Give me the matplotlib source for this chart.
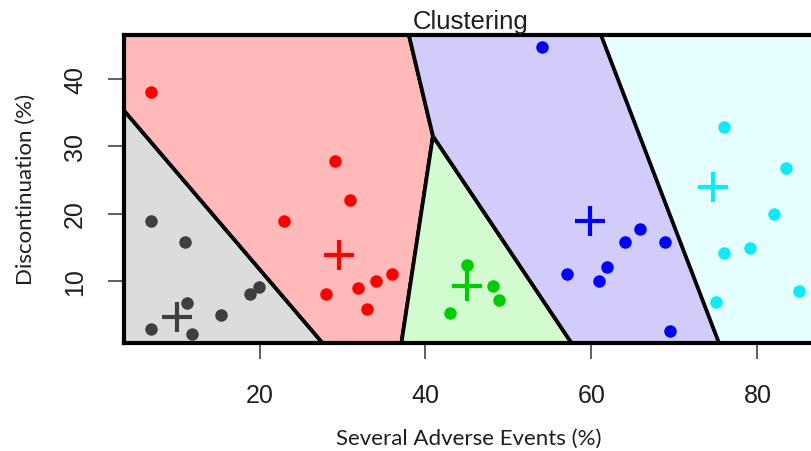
import matplotlib
matplotlib.use("Agg")
import matplotlib.pyplot as plt

# ---------------- data ----------------
cluster_names = ["gray", "red", "green", "blue", "cyan"]

gray_x = [6.9, 11.0, 6.9, 11.3, 11.9, 15.4, 18.9, 19.9]
gray_y = [18.9, 15.8, 2.8, 6.7, 2.1, 4.9, 8.0, 9.1]

red_x = [6.9, 29.1, 30.9, 23.0, 36.0, 34.0, 31.9, 28.0, 33.0]
red_y = [38.0, 27.8, 22.0, 18.9, 11.0, 10.0, 9.0, 8.0, 5.8]

green_x = [45.0, 48.1, 48.9, 42.9]
green_y = [12.3, 9.3, 7.2, 5.2]

blue_x = [54.1, 65.9, 64.0, 68.9, 61.9, 57.0, 60.9, 69.5]
blue_y = [44.7, 17.7, 15.8, 15.8, 12.1, 11.0, 10.0, 2.6]

cyan_x = [76.0, 83.5, 82.0, 76.0, 79.1, 75.0, 85.0]
cyan_y = [32.9, 26.8, 19.9, 14.1, 14.9, 6.9, 8.5]

center_x = [10.1, 29.6, 45.0, 59.8, 74.6]
center_y = [4.7, 13.8, 9.3, 18.9, 24.0]

# region boundaries (data units)
x_lo, x_hi = 3.67, 87.3
y_lo, y_hi = 0.79, 46.5
gray_reg_x = [x_lo, x_lo, 27.6]
gray_reg_y = [y_lo, 35.3, y_lo]
red_reg_x = [x_lo, x_lo, 38.0, 40.9, 37.1, 27.6]
red_reg_y = [35.3, y_hi, y_hi, 31.5, y_lo, y_lo]
green_reg_x = [37.1, 40.9, 57.6]
green_reg_y = [y_lo, 31.5, y_lo]
blue_reg_x = [38.0, 61.2, 75.4, 57.6, 40.9]
blue_reg_y = [y_hi, y_hi, y_lo, y_lo, 31.5]
cyan_reg_x = [61.2, x_hi + 5, x_hi + 5, 75.4]
cyan_reg_y = [y_hi, y_hi, y_lo, y_lo]

x_ticks = [20, 40, 60, 80]
y_ticks = [10, 20, 30, 40]

title = "Clustering"
x_label = "Several Adverse Events (%)"
y_label = "Discontinuation (%)"

# ---------------- styles ----------------
point_colors = ["#3f3f3f", "#ff0000", "#00cc00", "#0000ff", "#10eaf8"]
fill_colors = ["#dcdcdc", "#ffb9b9", "#d2fbd0", "#d2ccfa", "#e5ffff"]

W, H = 812, 452
fig = plt.figure(figsize=(W / 100, H / 100), dpi=100)
ax_left, ax_right, ax_top, ax_bottom = 124, 818, 36, 344
ax = fig.add_axes([ax_left / W, (H - ax_bottom) / H, (ax_right - ax_left) / W,
                   (ax_bottom - ax_top) / H])
ax.set_xlim(x_lo, x_hi)
ax.set_ylim(y_lo, y_hi)

regions = [(gray_reg_x, gray_reg_y), (red_reg_x, red_reg_y),
           (green_reg_x, green_reg_y), (blue_reg_x, blue_reg_y),
           (cyan_reg_x, cyan_reg_y)]
for (rx, ry), fc in zip(regions, fill_colors):
    ax.fill(rx, ry, facecolor=fc, edgecolor="black", linewidth=2.7,
            joinstyle="miter", zorder=1, clip_on=True)

points = [(gray_x, gray_y), (red_x, red_y), (green_x, green_y),
          (blue_x, blue_y), (cyan_x, cyan_y)]
for (px, py), c in zip(points, point_colors):
    ax.plot(px, py, "o", color=c, markersize=9, markeredgewidth=0, zorder=3)

for cx, cy, c in zip(center_x, center_y, point_colors):
    ax.plot([cx], [cy], "+", color=c, markersize=22, markeredgewidth=3.0,
            zorder=4)

for side in ["left", "top", "bottom"]:
    ax.spines[side].set_linewidth(3.0)
    ax.spines[side].set_color("black")
    ax.spines[side].set_zorder(5)
ax.spines["right"].set_visible(False)

ax.set_xticks(x_ticks)
ax.set_yticks(y_ticks)
tick_font = dict(family=["Liberation Sans", "DejaVu Sans"], size=18)
ax.tick_params(axis="both", direction="out", length=11.5, width=1.1,
               color="#333333", labelcolor="#1e1e1e")
ax.tick_params(axis="x", pad=17)
ax.tick_params(axis="y", pad=15)
ax.set_xticklabels([str(t) for t in x_ticks], fontdict=tick_font)
ax.set_yticklabels([str(t) for t in y_ticks], fontdict=tick_font,
                   rotation=90, va="center")

fig.text(471 / W, 1 - 29 / H, title, ha="center", va="baseline",
         fontsize=18.5, family=["Liberation Sans", "DejaVu Sans"],
         color="#1e1e1e")
fig.text(469 / W, 1 - 439 / H, x_label, ha="center", va="center",
         fontsize=16, family=["Lato", "DejaVu Sans"], color="#1e1e1e")
fig.text(26 / W, 1 - 189 / H, y_label, ha="center", va="center",
         rotation=90, fontsize=16, family=["Lato", "DejaVu Sans"],
         color="#1e1e1e")

fig.savefig("out.png", dpi=100)
